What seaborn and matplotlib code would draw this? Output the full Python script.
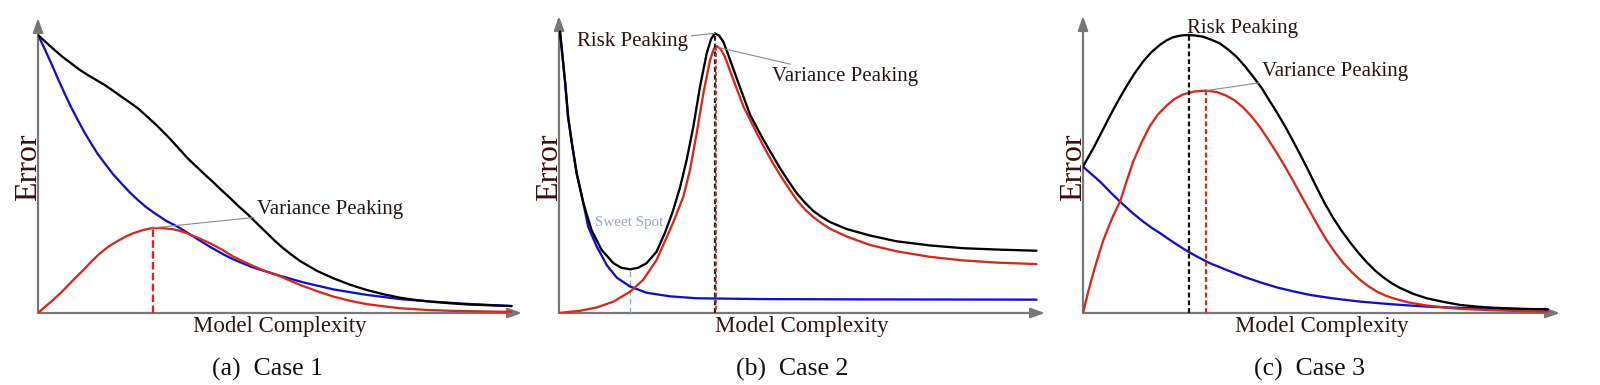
import numpy as np
import pandas as pd
import matplotlib
matplotlib.use("Agg")
import matplotlib.pyplot as plt
import seaborn as sns

sns.set_theme(style="white")
plt.rcParams['font.family'] = ['Liberation Serif', 'DejaVu Serif']

# ---------------- data (x: model complexity 0-1, y: error) ----------------
# Case 1
c1_risk_x = [0.0, 0.018, 0.035, 0.052, 0.070, 0.087, 0.105, 0.123, 0.141, 0.158, 0.176, 0.194,
             0.211, 0.228, 0.246, 0.264, 0.281, 0.298, 0.316, 0.334, 0.352, 0.370, 0.387, 0.405,
             0.422, 0.443, 0.462, 0.482, 0.500, 0.518, 0.536, 0.553, 0.588, 0.623, 0.658, 0.693,
             0.730, 0.764, 0.800, 0.834, 0.870, 0.904, 0.950, 0.999]
c1_risk_y = [1.000, 0.972, 0.946, 0.921, 0.898, 0.876, 0.856, 0.838, 0.820, 0.800, 0.778, 0.757,
             0.736, 0.710, 0.682, 0.652, 0.622, 0.590, 0.556, 0.527, 0.498, 0.470, 0.442, 0.414,
             0.386, 0.354, 0.322, 0.289, 0.259, 0.232, 0.208, 0.187, 0.152, 0.125, 0.102, 0.083,
             0.067, 0.055, 0.046, 0.040, 0.035, 0.031, 0.028, 0.025]
c1_bias_x = [0.0, 0.014, 0.028, 0.042, 0.056, 0.070, 0.084, 0.098, 0.112, 0.126, 0.141, 0.158,
             0.176, 0.193, 0.211, 0.228, 0.246, 0.270, 0.295, 0.314, 0.340, 0.363, 0.390, 0.412,
             0.450, 0.504, 0.560, 0.623, 0.690, 0.764, 0.830, 0.904, 0.999]
c1_bias_y = [1.000, 0.950, 0.898, 0.843, 0.790, 0.740, 0.694, 0.650, 0.610, 0.572, 0.538, 0.500,
             0.466, 0.435, 0.406, 0.381, 0.359, 0.332, 0.310, 0.290, 0.262, 0.238, 0.212, 0.193,
             0.166, 0.137, 0.110, 0.085, 0.066, 0.050, 0.041, 0.033, 0.025]
c1_var_x = [0.0, 0.016, 0.032, 0.047, 0.061, 0.078, 0.096, 0.113, 0.131, 0.148, 0.166, 0.184,
            0.201, 0.221, 0.242, 0.264, 0.286, 0.300, 0.314, 0.338, 0.363, 0.388, 0.412, 0.435,
            0.458, 0.481, 0.504, 0.528, 0.553, 0.588, 0.623, 0.658, 0.693, 0.730, 0.764, 0.820,
            0.869, 0.930, 0.999]
c1_var_y = [0.0, 0.024, 0.047, 0.071, 0.095, 0.125, 0.155, 0.186, 0.215, 0.238, 0.257, 0.274,
            0.287, 0.298, 0.306, 0.305, 0.301, 0.295, 0.287, 0.270, 0.251, 0.228, 0.203, 0.184,
            0.166, 0.150, 0.137, 0.119, 0.101, 0.079, 0.059, 0.044, 0.032, 0.024, 0.017, 0.011,
            0.008, 0.006, 0.004]
c1_var_peak = (0.242, 0.306)

# Case 2
c2_risk_x = [0.002, 0.006, 0.013, 0.019, 0.027, 0.037, 0.051, 0.068, 0.089, 0.114, 0.130, 0.149,
             0.166, 0.183, 0.204, 0.222, 0.238, 0.253, 0.267, 0.281, 0.295, 0.309, 0.318, 0.326,
             0.335, 0.344, 0.358, 0.379, 0.400, 0.427, 0.445, 0.462, 0.480, 0.497, 0.515, 0.532,
             0.550, 0.567, 0.602, 0.650, 0.706, 0.776, 0.846, 0.920, 0.999]
c2_risk_y = [1.012, 0.946, 0.826, 0.706, 0.610, 0.502, 0.395, 0.299, 0.227, 0.179, 0.163, 0.157,
             0.163, 0.179, 0.220, 0.290, 0.365, 0.450, 0.550, 0.670, 0.814, 0.934, 0.985, 1.006,
             0.998, 0.975, 0.910, 0.810, 0.712, 0.625, 0.572, 0.522, 0.474, 0.432, 0.396, 0.367,
             0.345, 0.327, 0.302, 0.279, 0.258, 0.243, 0.233, 0.228, 0.224]
c2_bias_x = [0.002, 0.006, 0.013, 0.019, 0.027, 0.037, 0.051, 0.061, 0.079, 0.100, 0.121, 0.149,
             0.183, 0.232, 0.288, 0.427, 0.637, 0.999]
c2_bias_y = [1.012, 0.946, 0.826, 0.706, 0.610, 0.502, 0.395, 0.310, 0.239, 0.172, 0.127, 0.095,
             0.073, 0.060, 0.053, 0.050, 0.049, 0.048]
c2_var_x = [0.0, 0.044, 0.079, 0.114, 0.149, 0.176, 0.204, 0.222, 0.240, 0.260, 0.274, 0.288,
            0.302, 0.316, 0.324, 0.330, 0.338, 0.347, 0.365, 0.386, 0.414, 0.431, 0.448, 0.465,
            0.482, 0.498, 0.515, 0.532, 0.550, 0.567, 0.602, 0.650, 0.706, 0.776, 0.846, 0.920,
            0.999]
c2_var_y = [0.0, 0.008, 0.020, 0.041, 0.077, 0.119, 0.190, 0.260, 0.330, 0.418, 0.514, 0.646,
            0.790, 0.910, 0.950, 0.960, 0.950, 0.922, 0.838, 0.742, 0.646, 0.590, 0.538, 0.490,
            0.445, 0.405, 0.372, 0.345, 0.322, 0.303, 0.275, 0.245, 0.222, 0.202, 0.189, 0.181,
            0.176]
c2_risk_peak = (0.326, 1.006)
c2_var_peak = (0.329, 0.960)
c2_sweet_spot = (0.149, 0.157)

# Case 3
c3_risk_x = [0.0, 0.011, 0.022, 0.040, 0.057, 0.075, 0.093, 0.111, 0.129, 0.147, 0.165, 0.180,
             0.194, 0.210, 0.226, 0.242, 0.258, 0.276, 0.294, 0.312, 0.330, 0.348, 0.366, 0.384,
             0.401, 0.419, 0.437, 0.459, 0.480, 0.503, 0.520, 0.538, 0.556, 0.574, 0.592, 0.610,
             0.628, 0.646, 0.664, 0.682, 0.710, 0.739, 0.775, 0.811, 0.846, 0.882, 0.940, 1.0]
c3_risk_y = [0.526, 0.560, 0.592, 0.650, 0.706, 0.762, 0.814, 0.862, 0.904, 0.938, 0.964, 0.981,
             0.992, 0.998, 1.000, 0.998, 0.994, 0.983, 0.970, 0.948, 0.922, 0.888, 0.850, 0.810,
             0.764, 0.716, 0.664, 0.596, 0.528, 0.450, 0.394, 0.342, 0.296, 0.255, 0.217, 0.183,
             0.153, 0.128, 0.107, 0.090, 0.069, 0.053, 0.040, 0.029, 0.023, 0.019, 0.015, 0.013]
c3_bias_x = [0.0, 0.018, 0.037, 0.058, 0.080, 0.105, 0.130, 0.148, 0.166, 0.192, 0.218, 0.245,
             0.273, 0.310, 0.345, 0.380, 0.417, 0.452, 0.488, 0.540, 0.596, 0.667, 0.739, 0.820,
             0.910, 1.0]
c3_bias_y = [0.526, 0.500, 0.472, 0.436, 0.400, 0.362, 0.328, 0.306, 0.287, 0.257, 0.229, 0.203,
             0.179, 0.154, 0.131, 0.111, 0.092, 0.078, 0.065, 0.052, 0.041, 0.031, 0.023, 0.018,
             0.015, 0.013]
c3_var_x = [0.0, 0.011, 0.022, 0.033, 0.044, 0.055, 0.065, 0.080, 0.094, 0.108, 0.125, 0.143,
            0.160, 0.179, 0.197, 0.215, 0.240, 0.265, 0.287, 0.308, 0.326, 0.344, 0.362, 0.380,
            0.398, 0.416, 0.434, 0.452, 0.470, 0.488, 0.506, 0.524, 0.542, 0.560, 0.578, 0.596,
            0.614, 0.632, 0.650, 0.667, 0.700, 0.739, 0.775, 0.811, 0.880, 0.940, 1.0]
c3_var_y = [0.0, 0.075, 0.143, 0.205, 0.263, 0.310, 0.350, 0.402, 0.475, 0.545, 0.610, 0.670,
            0.712, 0.745, 0.770, 0.786, 0.797, 0.800, 0.795, 0.782, 0.765, 0.740, 0.708, 0.670,
            0.625, 0.578, 0.528, 0.475, 0.420, 0.366, 0.312, 0.262, 0.218, 0.179, 0.147, 0.119,
            0.096, 0.077, 0.063, 0.053, 0.038, 0.027, 0.020, 0.015, 0.010, 0.007, 0.005]
c3_risk_peak = (0.227, 1.000)
c3_var_peak = (0.265, 0.800)

captions = ["(a)  Case 1", "(b)  Case 2", "(c)  Case 3"]
x_label = "Model Complexity"
y_label = "Error"

# ---------------- styling ----------------
W, H = 1600, 385
RISK_C, BIAS_C, VAR_C = "#000000", "#1010c8", "#d42a1a"
AXIS_C = "#777777"
TEXT_C = "#2e1414"
palette = {"risk": RISK_C, "bias": BIAS_C, "var": VAR_C}

fig = plt.figure(figsize=(W / 100, H / 100), dpi=100)

panels = [
    dict(ox=38, ax_end=522, cend=512, top=18),
    dict(ox=559, ax_end=1045, cend=1037, top=16),
    dict(ox=1083, ax_end=1560, cend=1548, top=16),
]
BASE = 313
UNIT = 278.0

def make_df(risk_x, risk_y, bias_x, bias_y, var_x, var_y):
    parts = []
    for name, xs, ys in [("bias", bias_x, bias_y), ("var", var_x, var_y), ("risk", risk_x, risk_y)]:
        parts.append(pd.DataFrame({"x": xs, "y": ys, "curve": name}))
    return pd.concat(parts, ignore_index=True)

dfs = [
    make_df(c1_risk_x, c1_risk_y, c1_bias_x, c1_bias_y, c1_var_x, c1_var_y),
    make_df(c2_risk_x, c2_risk_y, c2_bias_x, c2_bias_y, c2_var_x, c2_var_y),
    make_df(c3_risk_x, c3_risk_y, c3_bias_x, c3_bias_y, c3_var_x, c3_var_y),
]

axes = []
for i, (p, df) in enumerate(zip(panels, dfs)):
    left = p["ox"] / W
    bottom = (H - BASE) / H
    width = (p["ax_end"] - p["ox"]) / W
    height = (BASE - p["top"]) / H
    ax = fig.add_axes([left, bottom, width, height])
    ax.set_xlim(0, (p["ax_end"] - p["ox"]) / (p["cend"] - p["ox"]))
    ax.set_ylim(0, (BASE - p["top"]) / UNIT)
    sns.lineplot(data=df, x="x", y="y", hue="curve", palette=palette, sort=False,
                 estimator=None, linewidth=1.65, legend=False, ax=ax, zorder=3)
    for ln in ax.get_lines():
        ln.set_solid_joinstyle("round")
        ln.set_solid_capstyle("round")
    ax.axis("off")
    xmax = ax.get_xlim()[1]
    ymax = ax.get_ylim()[1]
    ax.annotate("", xy=(xmax, 0), xytext=(0, 0),
                arrowprops=dict(arrowstyle="-|>,head_length=0.7,head_width=0.25",
                                color=AXIS_C, lw=1.6, shrinkA=0, shrinkB=0),
                annotation_clip=False, zorder=2)
    ax.annotate("", xy=(0, ymax), xytext=(0, 0),
                arrowprops=dict(arrowstyle="-|>,head_length=0.7,head_width=0.25",
                                color=AXIS_C, lw=1.6, shrinkA=0, shrinkB=0),
                annotation_clip=False, zorder=2)
    ax.text(0.5 * xmax, -0.048, x_label, ha="center", va="center", fontsize=16.5, color=TEXT_C)
    ax.text(-9 / (p["cend"] - p["ox"]), 146 / UNIT, y_label, ha="center", va="center",
            rotation=90, fontsize=23, color="#3c0f0f")
    axes.append(ax)

cap_x = [267, 792, 1310]
for cx, cap in zip(cap_x, captions):
    fig.text(cx / W, 1 - 369 / H, cap, ha="center", va="center", fontsize=18.5, color="#111111")

leader = dict(arrowstyle="-", color="#8a8a8a", lw=0.8, shrinkA=0, shrinkB=0)
ANN_FS = 15

# Case 1 annotations
ax = axes[0]
ax.plot([c1_var_peak[0]] * 2, [0, c1_var_peak[1]], ls=(0, (3.2, 1.4)), color=VAR_C, lw=1.7, zorder=4)
ax.annotate("Variance Peaking", xy=c1_var_peak, xytext=(0.462, 0.372), fontsize=ANN_FS,
            color=TEXT_C, va="center", ha="left", arrowprops=leader)

# Case 2 annotations
ax = axes[1]
ax.plot([c2_risk_peak[0]] * 2, [0, c2_risk_peak[1]], ls=(0, (2.2, 1.3)), color="#222222", lw=1.6, zorder=4)
ax.plot([c2_var_peak[0]] * 2, [0, c2_var_peak[1]], ls=(1.7, (2.2, 1.3)), color=VAR_C, lw=1.3, zorder=4)
ax.plot([c2_sweet_spot[0]] * 2, [0, c2_sweet_spot[1]], ls=(0, (4, 2.5)), color="#8fa6d6", lw=1.0, zorder=2)
ax.text(0.075, 0.324, "Sweet Spot", fontsize=10.8, color="#8fa6d6", va="center", ha="left")
ax.annotate("Risk Peaking", xy=c2_risk_peak, xytext=(0.27, 0.975), fontsize=ANN_FS,
            color=TEXT_C, va="center", ha="right", arrowprops=leader)
ax.annotate("Variance Peaking", xy=(0.334, 0.955), xytext=(0.446, 0.849), fontsize=ANN_FS,
            color=TEXT_C, va="center", ha="left", arrowprops=leader)

# Case 3 annotations
ax = axes[2]
ax.plot([c3_risk_peak[0]] * 2, [0, c3_risk_peak[1]], ls=(0, (2.2, 1.3)), color="#111111", lw=1.6, zorder=4)
ax.plot([c3_var_peak[0]] * 2, [0, c3_var_peak[1]], ls=(0, (2.2, 1.3)), color=VAR_C, lw=1.6, zorder=4)
ax.text(0.224, 1.022, "Risk Peaking", fontsize=ANN_FS, color=TEXT_C, va="center", ha="left")
ax.annotate("Variance Peaking", xy=c3_var_peak, xytext=(0.385, 0.868), fontsize=ANN_FS,
            color=TEXT_C, va="center", ha="left", arrowprops=leader)

fig.savefig("out.png", dpi=100, facecolor="white")
